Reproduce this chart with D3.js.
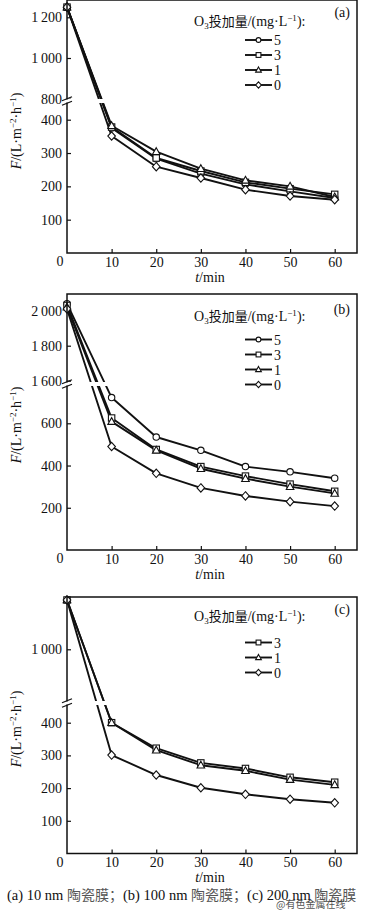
<!DOCTYPE html>
<html><head><meta charset="utf-8">
<script src="https://cdn.jsdelivr.net/npm/d3@7/dist/d3.min.js"></script>
<style>
html,body{margin:0;padding:0;background:#fff;}
svg{display:block;}
text{font-family:"Liberation Serif","Times New Roman",serif;fill:#111;}
.cjk{font-family:"Noto Sans CJK SC",sans-serif;}
</style></head>
<body>
<script>
// ---------- data ----------
const times = [0, 10, 20, 30, 40, 50, 60];
const xTicks = [10, 20, 30, 40, 50, 60];

// (a) 10 nm
const aDoses = ["5", "3", "1", "0"];
const aDose5 = [1250, 375, 283, 238, 206, 185, 165];
const aDose3 = [1250, 378, 285, 246, 212, 193, 176];
const aDose1 = [1250, 382, 304, 253, 218, 200, 168];
const aDose0 = [1250, 351, 259, 225, 190, 171, 160];
const aUpperTicks = [800, 1000, 1200];
const aLowerTicks = [100, 200, 300, 400];

// (b) 100 nm
const bDoses = ["5", "3", "1", "0"];
const bDose5 = [2040, 722, 535, 472, 395, 370, 340];
const bDose3 = [2030, 625, 476, 395, 350, 312, 278];
const bDose1 = [2020, 608, 472, 385, 338, 300, 268];
const bDose0 = [2010, 490, 363, 294, 256, 229, 208];
const bUpperTicks = [1600, 1800, 2000];
const bLowerTicks = [200, 400, 600];

// (c) 200 nm
const cDoses = ["3", "1", "0"];
const cDose3 = [1240, 400, 322, 277, 260, 233, 218];
const cDose1 = [1240, 400, 316, 270, 253, 226, 210];
const cDose0 = [1240, 301, 240, 201, 181, 166, 155];
const cUpperTicks = [1000];
const cLowerTicks = [100, 200, 300, 400];

const markerOf = {"5": "circle", "3": "square", "1": "triangle", "0": "diamond"};

// ---------- layout ----------
const W = 366, H = 911;
const L = 67, R = 357;
const panels = [
  {label: "(a)", top: 0, bottom: 253, breakY: 101,
   upper: {dom: [800, 1200], rng: [98.7, 17.3]}, lower: {dom: [0, 400], rng: [253, 119.7]},
   split: 600, upperTicks: aUpperTicks, lowerTicks: aLowerTicks,
   series: [[aDoses[0], aDose5], [aDoses[1], aDose3], [aDoses[2], aDose1], [aDoses[3], aDose0]],
   legTitleY: 26, legY0: 40, tagY: 17, yTitleC: 131},
  {label: "(b)", top: 294, bottom: 550, breakY: 384,
   upper: {dom: [1600, 2000], rng: [380.7, 310.7]}, lower: {dom: [0, 600], rng: [550, 423.3]},
   split: 1000, upperTicks: bUpperTicks, lowerTicks: bLowerTicks,
   series: [[bDoses[0], bDose5], [bDoses[1], bDose3], [bDoses[2], bDose1], [bDoses[3], bDose0]],
   legTitleY: 321, legY0: 339.5, tagY: 314, yTitleC: 425},
  {label: "(c)", top: 597, bottom: 853.5, breakY: 703,
   upper: {dom: [1000, 1240], rng: [649.3, 600]}, lower: {dom: [0, 400], rng: [853.5, 722.7]},
   split: 600, upperTicks: cUpperTicks, lowerTicks: cLowerTicks,
   series: [[cDoses[0], cDose3], [cDoses[1], cDose1], [cDoses[2], cDose0]],
   legTitleY: 621, legY0: 642.5, tagY: 614, yTitleC: 729}
];

const svg = d3.select("body").append("svg").attr("width", W).attr("height", H);
const x = d3.scaleLinear().domain([0, 65]).range([L, R]);

const fmt = v => v >= 1000 ? String(v).replace(/(\d)(\d{3})$/, "$1\u2009$2") : String(v);

function drawMarker(g, type, cx, cy, s) {
  const st = {fill: "#fff", stroke: "#111", "stroke-width": 1.1};
  let el;
  if (type === "circle") el = g.append("circle").attr("cx", cx).attr("cy", cy).attr("r", 3.2 * s);
  else if (type === "square") el = g.append("rect").attr("x", cx - 3.2 * s).attr("y", cy - 3.2 * s).attr("width", 6.4 * s).attr("height", 6.4 * s);
  else if (type === "triangle") el = g.append("path").attr("d", `M${cx},${cy - 4 * s}L${cx + 3.8 * s},${cy + 2.8 * s}L${cx - 3.8 * s},${cy + 2.8 * s}Z`);
  else el = g.append("path").attr("d", `M${cx},${cy - 4.2 * s}L${cx + 3.8 * s},${cy}L${cx},${cy + 4.2 * s}L${cx - 3.8 * s},${cy}Z`);
  for (const k in st) el.attr(k, st[k]);
}

panels.forEach(p => {
  const g = svg.append("g");
  const yU = d3.scaleLinear().domain(p.upper.dom).range(p.upper.rng);
  const yL = d3.scaleLinear().domain(p.lower.dom).range(p.lower.rng);
  const y = v => v > p.split ? yU(v) : yL(v);

  // x axis ticks (inward)
  const xa = g.append("g").attr("transform", `translate(0,${p.bottom})`)
    .call(d3.axisBottom(x).tickValues(xTicks).tickSizeInner(-4).tickSizeOuter(0).tickPadding(4).tickFormat(d3.format("d")));
  xa.select(".domain").remove();
  xa.selectAll("line").attr("stroke", "#111").attr("stroke-width", 1.2);
  xa.selectAll("text").attr("font-size", 14).attr("font-family", "Liberation Serif").attr("fill", "#111");

  // y axis (two segments)
  [[yU, p.upperTicks], [yL, p.lowerTicks]].forEach(([sc, tv]) => {
    const ya = g.append("g").attr("transform", `translate(${L},0)`)
      .call(d3.axisLeft(sc).tickValues(tv).tickSizeInner(-4).tickSizeOuter(0).tickPadding(5).tickFormat(fmt));
    ya.select(".domain").remove();
    ya.selectAll("line").attr("stroke", "#111").attr("stroke-width", 1.2);
    ya.selectAll("text").attr("font-size", 14).attr("font-family", "Liberation Serif").attr("fill", "#111");
  });
  // origin zero
  g.append("text").attr("x", 60).attr("y", p.bottom + 13).attr("text-anchor", "middle").attr("font-size", 14).text("0");

  // series lines
  const line = d3.line().x((d, i) => x(times[i])).y(d => y(d));
  p.series.forEach(([dose, vals]) => {
    g.append("path").datum(vals).attr("d", line).attr("fill", "none")
      .attr("stroke", "#111").attr("stroke-width", 1.9).attr("stroke-linejoin", "round");
  });
  p.series.forEach(([dose, vals]) => {
    vals.forEach((v, i) => drawMarker(g, markerOf[dose], x(times[i]), y(v), 1));
  });

  // break gap
  g.append("rect").attr("x", L - 1).attr("y", p.breakY - 2).attr("width", R - L).attr("height", 4).attr("fill", "#fff");
  // frame
  g.append("rect").attr("x", L).attr("y", p.top).attr("width", R - L).attr("height", p.bottom - p.top)
    .attr("fill", "none").attr("stroke", "#111").attr("stroke-width", 1.5);
  // re-gap the left axis
  g.append("rect").attr("x", L - 2).attr("y", p.breakY - 1.5).attr("width", 4).attr("height", 3).attr("fill", "#fff");
  // break marks
  [-2.2, 2.2].forEach(o => {
    g.append("line").attr("x1", L - 5).attr("y1", p.breakY + o + 2).attr("x2", L + 5).attr("y2", p.breakY + o - 2)
      .attr("stroke", "#111").attr("stroke-width", 1.2);
  });

  // panel tag
  g.append("text").attr("x", 350).attr("y", p.tagY).attr("text-anchor", "end").attr("font-size", 14).text(p.label);

  // legend title
  const lt = g.append("text").attr("x", 194).attr("y", p.legTitleY).attr("font-size", 14);
  lt.append("tspan").text("O");
  lt.append("tspan").attr("font-size", 9).attr("dy", 3).text("3");
  lt.append("tspan").attr("dy", -3).attr("class", "cjk").attr("font-size", 13).text("投加量");
  lt.append("tspan").text("/(mg\u00b7L");
  lt.append("tspan").attr("font-size", 9).attr("dy", -5).text("\u22121");
  lt.append("tspan").attr("dy", 5).text("):");

  // legend items
  p.series.forEach(([dose], i) => {
    const ly = p.legY0 + i * 15;
    g.append("line").attr("x1", 245).attr("x2", 272).attr("y1", ly).attr("y2", ly).attr("stroke", "#111").attr("stroke-width", 1.9);
    drawMarker(g, markerOf[dose], 258.5, ly, 0.75);
    g.append("text").attr("x", 274).attr("y", ly + 5).attr("font-size", 14).text(dose);
  });

  // y title
  const yt = g.append("text").attr("transform", `translate(21,${p.yTitleC}) rotate(-90)`)
    .attr("text-anchor", "middle").attr("font-size", 14);
  yt.append("tspan").attr("font-style", "italic").text("F");
  yt.append("tspan").text("/(L\u00b7m");
  yt.append("tspan").attr("font-size", 9).attr("dy", -5).text("\u22122");
  yt.append("tspan").attr("dy", 5).text("\u00b7h");
  yt.append("tspan").attr("font-size", 9).attr("dy", -5).text("\u22121");
  yt.append("tspan").attr("dy", 5).text(")");

  // x title
  const xt = g.append("text").attr("x", 210).attr("y", p.bottom + 28.5).attr("text-anchor", "middle").attr("font-size", 14);
  xt.append("tspan").attr("font-style", "italic").text("t");
  xt.append("tspan").text("/min");
});

// caption
const cap = svg.append("text").attr("x", 7).attr("y", 900).attr("font-size", 14.5);
const capParts = [["(a) 10 nm ", 0], ["陶瓷膜；", 1], ["(b) 100 nm ", 0], ["陶瓷膜；", 1], ["(c) 200 nm ", 0], ["陶瓷膜", 1]];
capParts.forEach(([t, c]) => {
  const ts = cap.append("tspan").text(t);
  if (c) ts.attr("class", "cjk").attr("font-size", 14).attr("fill", "#555");
});
// watermark (overlaps the caption, as in the source image)
svg.append("text").attr("x", 276).attr("y", 907.5).attr("font-size", 10).attr("class", "cjk")
  .attr("fill", "#f2b8b8").attr("opacity", 0.75).text("@有色金属在线");
</script>
</body></html>
